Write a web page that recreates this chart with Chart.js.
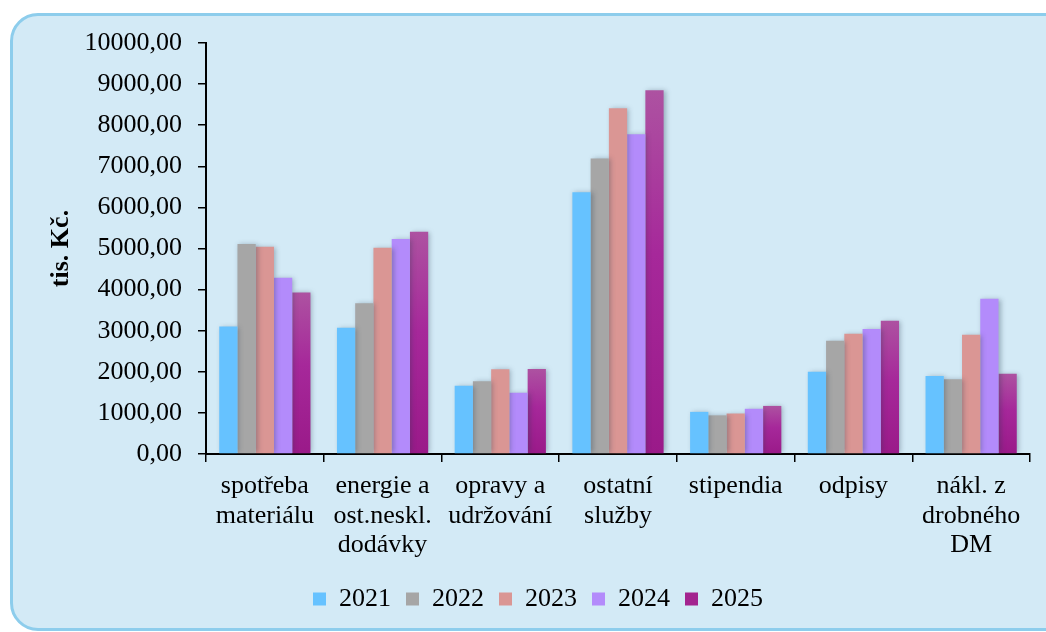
<!DOCTYPE html>
<html>
<head>
<meta charset="utf-8">
<script src="https://cdn.jsdelivr.net/npm/chart.js@4"></script>
<style>
    html, body { margin: 0; padding: 0; background: #ffffff; overflow: hidden; }
    #wrap { position: relative; width: 1046px; height: 632px; }
    #frame {
        position: absolute; left: 10px; top: 13px; width: 1060px; height: 612px;
        background: #d3eaf6; border: 3px solid #8dcdec; border-radius: 28px;
    }
    #myChart { position: absolute; left: 0; top: 0; }
</style>
</head>
<body>
<div id="wrap">
    <div id="frame"></div>
    <canvas id="myChart" width="1046" height="632"></canvas>
</div>
<script>
// Kategorie nákladů
const categories = [
    ['spotřeba', 'materiálu'],
    ['energie a', 'ost.neskl.', 'dodávky'],
    ['opravy a', 'udržování'],
    ['ostatní', 'služby'],
    ['stipendia'],
    ['odpisy'],
    ['nákl. z', 'drobného', 'DM']
];

// Hodnoty v tis. Kč
const values2021 = [3100, 3070, 1660, 6370, 1025, 2000, 1900];
const values2022 = [5110, 3670, 1770, 7190, 940, 2755, 1820];
const values2023 = [5040, 5020, 2065, 8410, 985, 2925, 2900];
const values2024 = [4290, 5230, 1490, 7780, 1100, 3040, 3780];
const values2025 = [3930, 5410, 2070, 8850, 1170, 3245, 1950];

const years = ['2021', '2022', '2023', '2024', '2025'];
const yTicks = [0, 1000, 2000, 3000, 4000, 5000, 6000, 7000, 8000, 9000, 10000];

const fontName = "'Liberation Serif', 'Times New Roman', serif";

// gradient pro rok 2025 (každý sloupec zvlášť)
function purpleFill(context) {
    const chart = context.chart;
    if (!chart.chartArea || context.raw === undefined) return '#a3248f';
    const yScale = chart.scales.y;
    const top = yScale.getPixelForValue(context.raw);
    const bottom = yScale.getPixelForValue(0);
    const g = chart.ctx.createLinearGradient(0, top, 0, bottom);
    g.addColorStop(0, '#ad52a1');
    g.addColorStop(0.45, '#a6289a');
    g.addColorStop(1, '#9a1a89');
    return g;
}

// stín pod sloupci
const barShadow = {
    id: 'barShadow',
    beforeDatasetsDraw(chart) {
        const ctx = chart.ctx;
        ctx.save();
        ctx.shadowColor = 'rgba(40, 60, 80, 0.35)';
        ctx.shadowBlur = 5;
        ctx.shadowOffsetX = 2;
        ctx.shadowOffsetY = 0;
    },
    afterDatasetsDraw(chart) {
        chart.ctx.restore();
    }
};

const ctx = document.getElementById('myChart').getContext('2d');
const myChart = new Chart(ctx, {
    type: 'bar',
    data: {
        labels: categories,
        datasets: [
            { label: years[0], data: values2021, backgroundColor: '#66c2ff' },
            { label: years[1], data: values2022, backgroundColor: '#a6a6a6' },
            { label: years[2], data: values2023, backgroundColor: '#da9694' },
            { label: years[3], data: values2024, backgroundColor: '#b38bfb' },
            { label: years[4], data: values2025, backgroundColor: purpleFill }
        ]
    },
    options: {
        responsive: false,
        animation: false,
        datasets: {
            bar: { barPercentage: 1.0, categoryPercentage: 0.775, borderWidth: 0 }
        },
        layout: {
            padding: { left: 46, right: 16, top: 43, bottom: 10 }
        },
        plugins: {
            tooltip: { enabled: false },
            legend: {
                position: 'bottom',
                labels: {
                    color: '#000',
                    font: { family: fontName, size: 26 },
                    boxWidth: 13,
                    boxHeight: 13,
                    padding: 15,
                    generateLabels(chart) {
                        return chart.data.datasets.map((ds, i) => ({
                            text: ds.label,
                            fillStyle: i === 4 ? '#a3248f' : ds.backgroundColor,
                            strokeStyle: 'rgba(0,0,0,0)',
                            lineWidth: 0,
                            datasetIndex: i,
                            hidden: false
                        }));
                    }
                }
            }
        },
        scales: {
            x: {
                grid: {
                    display: true,
                    drawOnChartArea: false,
                    drawTicks: true,
                    tickLength: 8,
                    color: '#000',
                    lineWidth: 1.5
                },
                border: { display: true, color: '#000', width: 2 },
                ticks: {
                    color: '#000',
                    maxRotation: 0,
                    autoSkip: false,
                    padding: 10,
                    font: { family: fontName, size: 26, lineHeight: 1.12 }
                },
                afterFit(scale) { scale.height = 117; }
            },
            y: {
                min: 0,
                max: 10000,
                afterBuildTicks(scale) {
                    scale.ticks = yTicks.map(v => ({ value: v }));
                },
                grid: {
                    display: true,
                    drawOnChartArea: false,
                    drawTicks: true,
                    tickLength: 8,
                    color: '#000',
                    lineWidth: 1.5
                },
                border: { display: true, color: '#000', width: 2 },
                ticks: {
                    color: '#000',
                    padding: 16,
                    font: { family: fontName, size: 26 },
                    callback: (value) => value.toFixed(2).replace('.', ',')
                },
                title: {
                    display: true,
                    text: 'tis. Kč.',
                    color: '#000',
                    padding: { top: 0, bottom: 0 },
                    font: { family: fontName, size: 26, weight: 'bold' }
                },
                afterFit(scale) { scale.width = 160; }
            }
        }
    },
    plugins: [barShadow]
});
</script>
</body>
</html>
